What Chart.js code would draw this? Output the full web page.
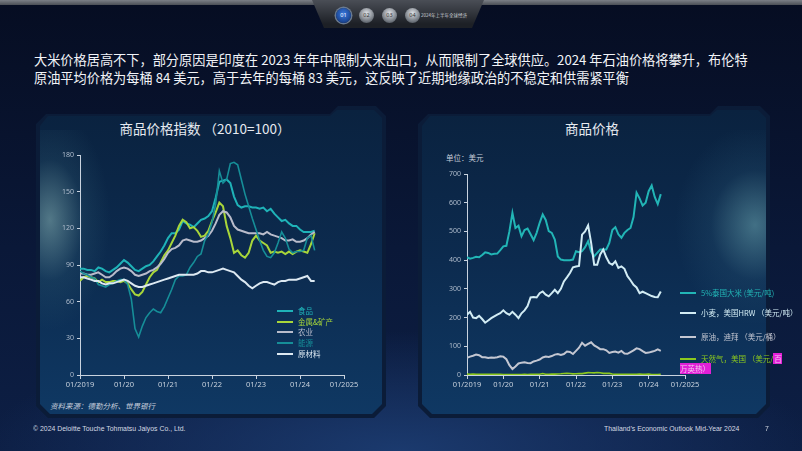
<!DOCTYPE html>
<html>
<head>
<meta charset="utf-8">
<script src="https://cdn.jsdelivr.net/npm/chart.js@4.4.1/dist/chart.umd.min.js"></script>
<style>
  html, body { margin: 0; padding: 0; }
  body { width: 802px; height: 451px; overflow: hidden; background: #0a1430; font-family: "Noto Sans CJK SC", "Noto Sans", sans-serif; }
  #page { position: relative; width: 802px; height: 451px; overflow: hidden;
    background: radial-gradient(ellipse 420px 120px at 400px 451px, #1b3a6e 0%, rgba(20,45,90,0) 100%),
                linear-gradient(180deg, #060d22 0%, #0a1838 55%, #0d1f45 100%); }
  .abs { position: absolute; }
  #topbar { left: 0; top: 0; width: 802px; height: 5px; background: linear-gradient(180deg, #7b7f86, #4b4f56); }
  #tab { left: 312px; top: 0; width: 172px; height: 30px; background: linear-gradient(180deg, #4a4e56, #1d2026 80%);
    clip-path: polygon(0 0, 172px 0, 160px 28px, 12px 28px); }
  .dot { width: 15px; height: 15px; border-radius: 50%; top: 8px; font: 5.5px "Noto Sans", sans-serif; color: #333;
    text-align: center; line-height: 15px; background: radial-gradient(circle at 50% 35%, #e0e3e8, #6a7078 70%, #30343a); }
  .dot.on { background: radial-gradient(circle at 50% 40%, #3a7be0, #173f8a 75%); color: #fff; box-shadow: 0 0 0 1.5px #6a7a90; }
  #tabtxt { left: 421px; top: 12px; font-size: 4.5px; color: #c8ccd2; white-space: nowrap; }
  #headline { left: 34px; top: 51px; width: 718px; font-size: 13.2px; line-height: 18px; color: #f2f4f8; }
  .frame { background: #0b1c38; }
  .panel { background: linear-gradient(180deg, #0a223f 0%, #0c2b4f 50%, #0f3863 100%); }
  .ctitle { font-size: 13.5px; color: #e6eaf0; white-space: nowrap; transform: translateX(-50%); }
  .leg { font-size: 7.5px; white-space: nowrap; line-height: 9px; }
  .leg i { display: inline-block; width: 16px; height: 2px; vertical-align: middle; margin-right: 5px; position: relative; top: -1px; }
  mark { background: #e21fd6; color: #f4c8f0; padding: 0 1px; }
  #source { left: 50px; top: 400px; font-size: 7.5px; color: #c3cbda; font-style: italic; }
  .foot { top: 424px; font-family: "Liberation Sans", sans-serif; font-size: 8px; color: #d5dae3; white-space: nowrap;
    transform: scaleX(0.86); transform-origin: left center; }
</style>
</head>
<body>
<div id="page">
  <div id="topbar" class="abs"></div>
  <div id="tab" class="abs"></div>
  <div class="abs dot on" style="left:336px">01</div>
  <div class="abs dot" style="left:359px">02</div>
  <div class="abs dot" style="left:382px">03</div>
  <div class="abs dot" style="left:405px">04</div>
  <div id="tabtxt" class="abs">2024年上半年全球经济</div>

  <div id="headline" class="abs">大米价格居高不下，部分原因是印度在 2023 年年中限制大米出口，从而限制了全球供应。2024 年石油价格将攀升，布伦特原油平均价格为每桶 84 美元，高于去年的每桶 83 美元，这反映了近期地缘政治的不稳定和供需紧平衡</div>

  <!-- left panel -->
  <div class="abs frame" style="left:36px; top:106px; width:350px; height:312px;
       clip-path: polygon(10px 8px, 294px 8px, 302px 0, 340px 0, 350px 10px, 350px 300px, 338px 312px, 12px 312px, 0 300px, 0 18px)"></div>
  <div class="abs panel" style="left:40px; top:110px; width:342px; height:304px;
       clip-path: polygon(8px 6px, 290px 6px, 297px 0, 334px 0, 342px 8px, 342px 294px, 332px 304px, 10px 304px, 0 294px, 0 16px)"></div>
  <div class="abs" style="left:40px; top:130px; width:120px; height:220px;
       background: radial-gradient(ellipse 60px 110px at 10px 90px, rgba(140,185,185,0.55) 0%, rgba(60,110,130,0.2) 55%, rgba(20,50,80,0) 100%)"></div>

  <!-- right panel -->
  <div class="abs frame" style="left:418px; top:106px; width:352px; height:312px;
       clip-path: polygon(10px 8px, 292px 8px, 300px 0, 342px 0, 352px 10px, 352px 300px, 340px 312px, 12px 312px, 0 300px, 0 18px)"></div>
  <div class="abs panel" style="left:422px; top:110px; width:344px; height:304px;
       clip-path: polygon(8px 6px, 288px 6px, 295px 0, 336px 0, 344px 8px, 344px 294px, 334px 304px, 10px 304px, 0 294px, 0 16px)"></div>
  <div class="abs" style="left:640px; top:130px; width:126px; height:220px;
       background: radial-gradient(ellipse 80px 100px at 115px 95px, rgba(110,170,180,0.55) 0%, rgba(50,100,130,0.2) 55%, rgba(20,50,80,0) 100%)"></div>

  <div class="abs ctitle" style="left:205px; top:118px;">商品价格指数 （2010=100）</div>
  <div class="abs ctitle" style="left:592px; top:118px;">商品价格</div>
  <div class="abs" style="left:446px; top:152px; font-size:7.5px; color:#c5cdd9;">单位：美元</div>

  <canvas id="indexChart" class="abs" width="324" height="250" style="left:40px; top:145px;"></canvas>
  <canvas id="priceChart" class="abs" width="285" height="233" style="left:420px; top:164px;"></canvas>

  <div id="indexLegend"></div>
  <div id="priceLegend"></div>

  <div id="source" class="abs">资料来源：德勤分析、世界银行</div>
  <div class="abs foot" style="left:33px;">© 2024 Deloitte Touche Tohmatsu Jaiyos Co., Ltd.</div>
  <div class="abs foot" style="left:604px;">Thailand’s Economic Outlook Mid-Year 2024</div>
  <div class="abs foot" style="left:765px;">7</div>
</div>

<script>
// monthly values, 01/2019 .. 05/2024
const xTickLabels = ["01/2019", "01/20", "01/21", "01/22", "01/23", "01/24", "01/2025"];

const indexNames = ["食品", "金属&矿产", "农业", "能源", "原材料"];
const indexColors = ["#1fb3b8", "#a8d63a", "#b9bccb", "#168e98", "#dde9f2"];

const foodIndex = [
    87, 87, 86, 86, 85, 88, 87, 85, 84, 86, 88, 91,
    94, 92, 89, 86, 85, 87, 89, 90, 93, 97, 101, 106,
    112, 116, 116, 119, 126, 124, 123, 121, 124, 127, 128, 130,
    134, 145, 158, 159, 160, 157, 146, 139, 137, 138, 138, 137,
    137, 136, 137, 134, 136, 132, 129, 126, 127, 124, 122, 122,
    119, 117, 117, 117, 118
];
const metalsIndex = [
    77, 80, 81, 80, 79, 76, 78, 76, 76, 77, 77, 76,
    77, 75, 70, 66, 65, 68, 74, 80, 84, 86, 92, 98,
    102, 108, 114, 122, 127, 125, 120, 121, 118, 113, 114, 118,
    126, 133, 141, 138, 122, 112, 100, 102, 98, 96, 100, 110,
    114, 110, 108, 106, 100, 101, 100, 101, 99, 101, 99, 101,
    102, 101, 100, 107, 116
];
const agricultureIndex = [
    83, 83, 82, 82, 83, 84, 82, 80, 80, 82, 85, 87,
    88, 87, 85, 82, 81, 82, 83, 85, 86, 88, 91, 95,
    100, 103, 104, 106, 110, 111, 110, 109, 109, 110, 112, 114,
    118, 124, 131, 134, 133, 129, 122, 119, 118, 117, 116, 116,
    116, 116, 115, 117, 115, 114, 113, 112, 110, 110, 111, 109,
    109, 110, 112, 115, 117
];
const energyIndex = [
    85, 83, 82, 80, 79, 74, 73, 72, 74, 75, 77, 78,
    78, 74, 62, 38, 31, 40, 47, 51, 54, 52, 51, 56,
    63, 70, 78, 81, 81, 82, 88, 92, 97, 99, 110, 115,
    125, 140, 167, 157, 160, 173, 174, 172, 160, 148, 138, 128,
    119, 110, 102, 97, 96, 100, 108, 117, 112, 103, 100, 101,
    101, 102, 112, 114, 102
];
const rawMaterialsIndex = [
    80, 80, 79, 78, 77, 77, 75, 74, 75, 75, 76, 77,
    78, 77, 75, 73, 72, 72, 73, 74, 75, 76, 77, 78,
    79, 80, 81, 82, 82, 82, 82, 82, 83, 85, 85, 84,
    84, 85, 86, 87, 86, 85, 84, 81, 78, 76, 73, 71,
    73, 75, 76, 76, 75, 74, 76, 77, 77, 78, 78, 78,
    79, 80, 81, 77, 77
];

const priceNames = ["5%泰国大米 (美元/吨)", "小麦，美国HRW （美元/吨）", "原油，迪拜 （美元/桶）", "天然气，美国 （美元/百万英热）"];
const priceColors = ["#22b5b6", "#d2ecf4", "#c4c7d2", "#8cc81e"];

const ricePrice = [
    410, 405, 408, 412, 410, 418, 427, 425, 420, 422, 423, 435,
    448, 450, 500, 565, 512, 520, 483, 505, 510, 490, 470, 495,
    530, 559, 540, 501, 495, 472, 413, 402, 400, 400, 400, 402,
    431, 428, 431, 445, 466, 430, 413, 425, 437, 437, 437, 460,
    505, 515, 490, 478, 495, 505, 512, 550, 635, 615, 590, 600,
    640, 660, 620, 595, 630
];
const wheatPrice = [
    210, 220, 200, 198, 206, 195, 182, 190, 198, 204, 210, 215,
    225, 215, 210, 220, 210, 198, 215, 225, 240, 270, 272, 270,
    285, 291, 280, 274, 285, 297, 285, 300, 326, 340, 355, 375,
    378, 380, 489, 500, 521, 460, 384, 384, 420, 437, 410, 390,
    384, 396, 373, 378, 370, 344, 330, 314, 305, 285, 290, 285,
    280, 275, 272, 271, 291
];
const oilPrice = [
    60, 64, 67, 71, 69, 62, 62, 59, 61, 60, 62, 65,
    64, 55, 34, 21, 30, 40, 43, 44, 42, 41, 47, 50,
    54, 61, 64, 63, 66, 71, 73, 70, 73, 82, 80, 73,
    84, 95, 112, 102, 108, 114, 103, 97, 90, 90, 86, 77,
    80, 82, 78, 84, 75, 74, 80, 86, 93, 90, 83, 77,
    78, 81, 84, 89, 84
];
const gasPrice = [
    3.1, 2.7, 2.9, 2.6, 2.6, 2.4, 2.4, 2.2, 2.6, 2.3, 2.6, 2.2,
    2.0, 1.9, 1.8, 1.7, 1.8, 1.6, 1.8, 2.3, 1.9, 2.2, 2.6, 2.5,
    2.7, 5.1, 2.6, 2.7, 2.9, 3.2, 3.6, 4.1, 5.1, 5.5, 5.1, 3.8,
    4.4, 4.7, 4.9, 6.6, 8.1, 7.7, 7.3, 8.8, 7.8, 5.7, 5.5, 5.5,
    3.3, 2.4, 2.3, 2.2, 2.2, 2.2, 2.6, 2.6, 2.6, 3.0, 2.7, 2.5,
    3.2, 1.7, 1.5, 1.6, 2.1
];

const indexSeries = [foodIndex, metalsIndex, agricultureIndex, energyIndex, rawMaterialsIndex];
const priceSeries = [ricePrice, wheatPrice, oilPrice, gasPrice];

const axisColor = "#c9d3df";
const tickFont = { family: "Noto Sans", size: 7 };

function toPoints(values)
{
    return values.map((v, i) => ({ x: i, y: v }));
}

function makeOptions(yMax, yStep, yWidth, xHeight)
{
    return {
        responsive: false,
        animation: false,
        layout: { padding: { top: 10, right: 20, left: 0, bottom: 0 } },
        plugins: { legend: { display: false }, tooltip: { enabled: false } },
        elements: { point: { radius: 0 }, line: { tension: 0 } },
        scales: {
            x: {
                type: "linear", min: 0, max: 72,
                ticks: {
                    stepSize: 12, autoSkip: false, maxRotation: 0, padding: 1,
                    color: "#c7d1dd", font: { family: "Noto Sans", size: 7.5 },
                    callback: (v) => xTickLabels[v / 12]
                },
                grid: { display: true, drawOnChartArea: false, drawTicks: true, tickLength: 4, color: axisColor },
                border: { display: true, color: axisColor, width: 1 },
                afterFit: (s) => { s.height = xHeight; }
            },
            y: {
                min: 0, max: yMax,
                ticks: { stepSize: yStep, padding: 3, color: "#aebbcb", font: tickFont },
                grid: { display: true, drawOnChartArea: false, drawTicks: true, tickLength: 3, color: axisColor },
                border: { display: true, color: axisColor, width: 1 },
                afterFit: (s) => { s.width = yWidth; }
            }
        }
    };
}

new Chart(document.getElementById("indexChart").getContext("2d"), {
    type: "line",
    data: {
        datasets: indexSeries.map((vals, i) => ({
            label: indexNames[i],
            data: toPoints(vals),
            borderColor: indexColors[i],
            borderWidth: i === 3 ? 1.6 : 2
        })).reverse()
    },
    options: makeOptions(180, 30, 40, 20)
});

new Chart(document.getElementById("priceChart").getContext("2d"), {
    type: "line",
    data: {
        datasets: priceSeries.map((vals, i) => ({
            label: priceNames[i],
            data: toPoints(vals),
            borderColor: priceColors[i],
            borderWidth: i === 3 ? 1.6 : 2
        })).reverse()
    },
    options: makeOptions(700, 100, 47, 22)
});

// legends
const indexLegendY = [306, 317, 327, 338, 349];
const indexLegend = document.getElementById("indexLegend");
indexNames.forEach((name, i) => {
    const el = document.createElement("div");
    el.className = "abs leg";
    el.style.left = "277px";
    el.style.top = indexLegendY[i] + "px";
    el.style.color = indexColors[i];
    el.innerHTML = `<i style="background:${indexColors[i]}"></i>${name}`;
    indexLegend.appendChild(el);
});

const priceLegendY = [288, 308, 332, 354];
const priceLegend = document.getElementById("priceLegend");
priceNames.forEach((name, i) => {
    const el = document.createElement("div");
    el.className = "abs leg";
    el.style.left = "680px";
    el.style.top = priceLegendY[i] + "px";
    el.style.color = priceColors[i];
    let text = name;
    if (i === 3)
    {
        // the source slide has this tail highlighted and wrapped
        text = name.replace("百万英热）", "<mark>百<br>万英热）</mark>");
        el.style.lineHeight = "10px";
    }
    el.innerHTML = `<i style="background:${priceColors[i]}"></i>${text}`;
    priceLegend.appendChild(el);
});
</script>
</body>
</html>
